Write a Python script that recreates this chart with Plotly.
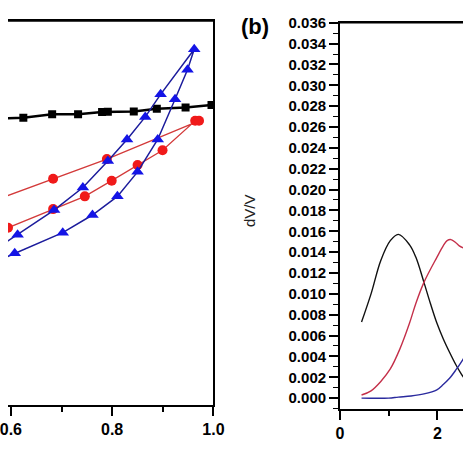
import plotly.graph_objects as go

# =========================
# panel (a) - isotherms, relative pressure P/P0
black_x = [0.5716, 0.6246, 0.6815, 0.7327, 0.7801, 0.7915, 0.8427, 0.8882, 0.9450, 0.9962]
black_y = [146, 146.6, 148.3, 148.3, 149.5, 149.6, 149.8, 151.2, 151.8, 153.1]

# adsorption branch then desorption branch
red_x = [0.5374, 0.5943, 0.6834, 0.7460, 0.7991, 0.8502, 0.8995, 0.9640,
         0.9716, 0.7896, 0.6834, 0.5374]
red_y = [84.5, 90.5, 100, 106.5, 114.5, 122.5, 130, 145,
         145, 125.5, 115.5, 101.5]

blue_x = [0.5185, 0.6076, 0.7024, 0.7611, 0.8104, 0.8502, 0.8900, 0.9242, 0.9488, 0.9621,
          0.8957, 0.8654, 0.8294, 0.7915, 0.7422, 0.6853, 0.6133, 0.5374]
blue_y = [67.5, 77.5, 88, 97, 106.5, 119, 135.5, 156, 171, 181.5,
          158.5, 147, 135.5, 124.5, 111, 99.5, 87, 74]

# =========================
# panel (b) - pore size distribution
psd_black_x = [0.445, 0.64, 0.84, 1.035, 1.20, 1.43, 1.56, 1.725, 1.856, 1.99, 2.12, 2.25, 2.38, 2.48, 2.55]
psd_black_y = [0.0073, 0.0100, 0.0132, 0.0151, 0.0157, 0.0147, 0.0135, 0.0111, 0.0091, 0.0072,
               0.0057, 0.0044, 0.0032, 0.0024, 0.0019]

psd_red_x = [0.445, 0.64, 0.84, 1.035, 1.23, 1.43, 1.56, 1.725, 1.99, 2.12, 2.20, 2.28, 2.38, 2.45, 2.53]
psd_red_y = [0.0003, 0.0007, 0.0016, 0.0028, 0.0047, 0.0072, 0.0091, 0.0111, 0.0135, 0.0146,
             0.0151, 0.0152, 0.0149, 0.0146, 0.0144]

psd_blue_x = [0.445, 1.0, 1.2, 1.46, 1.725, 1.99, 2.12, 2.25, 2.38, 2.51, 2.56]
psd_blue_y = [0.0000, 0.0000, 0.0001, 0.0002, 0.0004, 0.0008, 0.0013, 0.0019, 0.0027, 0.0036, 0.0040]

FONT = "Liberation Sans, Arial, sans-serif"

fig = go.Figure()

# panel (a)
fig.add_trace(go.Scatter(
    x=black_x, y=black_y, mode="lines+markers",
    line=dict(color="black", width=2.5),
    marker=dict(symbol="square", size=8, color="black"),
    xaxis="x", yaxis="y"
))
fig.add_trace(go.Scatter(
    x=red_x, y=red_y, mode="lines+markers",
    line=dict(color="#d33a3a", width=1.3),
    marker=dict(symbol="circle", size=10, color="#f01a1a"),
    xaxis="x", yaxis="y"
))
fig.add_trace(go.Scatter(
    x=blue_x, y=blue_y, mode="lines+markers",
    line=dict(color="#1c1c9c", width=1.5),
    marker=dict(symbol="triangle-up", size=11, color="#1414e6"),
    xaxis="x", yaxis="y"
))

# panel (b)
fig.add_trace(go.Scatter(
    x=psd_black_x, y=psd_black_y, mode="lines", line_shape="spline",
    line=dict(color="#111111", width=1.4),
    xaxis="x2", yaxis="y2"
))
fig.add_trace(go.Scatter(
    x=psd_red_x, y=psd_red_y, mode="lines", line_shape="spline",
    line=dict(color="#c4304a", width=1.4),
    xaxis="x2", yaxis="y2"
))
fig.add_trace(go.Scatter(
    x=psd_blue_x, y=psd_blue_y, mode="lines", line_shape="spline",
    line=dict(color="#2a2a9e", width=1.4),
    xaxis="x2", yaxis="y2"
))

x_font = dict(family=FONT, size=16, color="black", weight="bold")
y_font = dict(family=FONT, size=15, color="black", weight="bold")

fig.update_layout(
    width=474,
    height=474,
    autosize=False,
    margin=dict(l=0, r=0, t=0, b=0, pad=0),
    plot_bgcolor="white",
    paper_bgcolor="white",
    showlegend=False,
    xaxis=dict(
        domain=[0, 214 / 474],
        range=[0.5943, 1.0],
        anchor="y",
        tickvals=[0.6, 0.8, 1.0],
        ticktext=["0.6", "0.8", "1.0"],
        ticklabeloverflow="allow",
        ticks="outside", ticklen=9, tickwidth=1.5, tickcolor="black",
        minor=dict(tickvals=[0.7, 0.9], ticks="outside", ticklen=5, tickwidth=1.5, tickcolor="black"),
        showline=True, linecolor="black", linewidth=1.5, mirror=True,
        showgrid=False, zeroline=False,
        tickfont=x_font,
    ),
    yaxis=dict(
        domain=[70 / 474, 462 / 474],
        range=[0, 196],
        anchor="x",
        side="right",
        showline=True, linecolor="black", linewidth=1.5,
        showticklabels=False, ticks="",
        showgrid=False, zeroline=False,
    ),
    xaxis2=dict(
        domain=[345.7 / 474, 1],
        range=[0, 2.526],
        anchor="y2",
        tickvals=[0, 2],
        ticklabeloverflow="allow",
        ticks="outside", ticklen=9, tickwidth=1.5, tickcolor="black",
        minor=dict(tickvals=[1], ticks="outside", ticklen=5, tickwidth=1.5, tickcolor="black"),
        showline=True, linecolor="black", linewidth=1.5, mirror=True,
        showgrid=False, zeroline=False,
        tickfont=x_font,
    ),
    yaxis2=dict(
        domain=[66.3 / 474, 460 / 474],
        range=[-0.00104, 0.036],
        anchor="x2",
        tick0=0, dtick=0.002, tickformat=".3f",
        ticklabeloverflow="allow",
        ticks="outside", ticklen=9, tickwidth=1.5, tickcolor="black",
        minor=dict(dtick=0.001, ticks="outside", ticklen=5, tickwidth=1.2, tickcolor="black"),
        showline=True, linecolor="black", linewidth=1.5,
        showgrid=False, zeroline=False,
        tickfont=y_font,
    ),
    # top frame lines of both panels
    shapes=[
        dict(type="line", xref="paper", yref="paper", x0=0, x1=214 / 474,
             y0=462 / 474, y1=462 / 474, line=dict(color="black", width=1.8)),
        dict(type="line", xref="x2 domain", yref="y2 domain", x0=0, x1=1, y0=1, y1=1,
             line=dict(color="black", width=1.5)),
    ],
    annotations=[
        dict(text="(b)", x=257 / 474, y=1 - 18 / 474, xref="paper", yref="paper",
             xanchor="center", yanchor="middle", showarrow=False,
             font=dict(family=FONT, size=22, color="black", weight="bold")),
        dict(text="dV/V", x=251 / 474, y=1 - 205 / 474, xref="paper", yref="paper",
             xanchor="center", yanchor="middle", showarrow=False, textangle=-90,
             font=dict(family=FONT, size=15, color="#222222")),
    ],
)

# page body has a default margin; pin the figure to the window corner
fig.write_html(
    "out.html",
    config={"displayModeBar": False},
    post_script="document.body.style.margin='0';document.body.style.overflow='hidden';"
                "document.documentElement.style.overflow='hidden';",
)
